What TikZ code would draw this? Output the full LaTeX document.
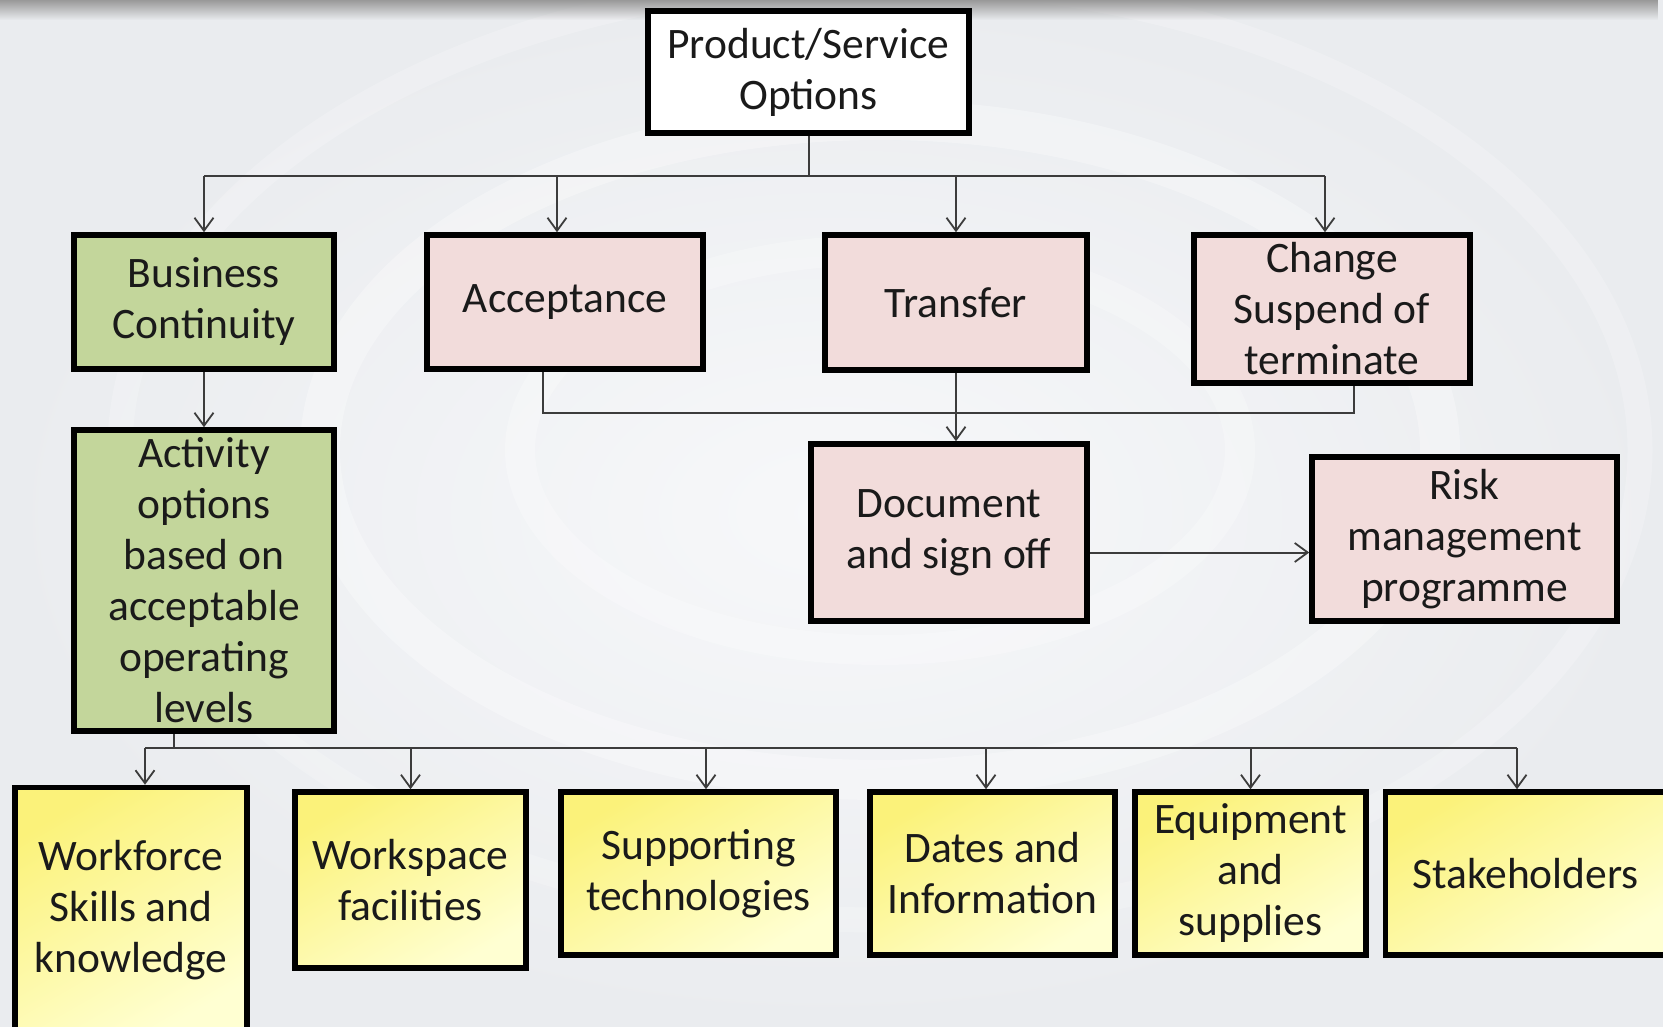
\documentclass[tikz,border=0pt]{standalone}
\usepackage{fontspec}
\setmainfont{Carlito}
\usetikzlibrary{arrows.meta,calc,fadings}
\definecolor{bgin}{HTML}{F7F8FA}
\definecolor{bgout}{HTML}{EAECEF}
\definecolor{grn}{HTML}{C3D69B}
\definecolor{pnk}{HTML}{F2DCDB}
\definecolor{ylwA}{HTML}{FBF27A}
\definecolor{ylwB}{HTML}{FFFFD2}
\definecolor{txt}{HTML}{1A1A1A}
\definecolor{conncol}{HTML}{3C3C3C}
\begin{document}
\begin{tikzpicture}[x=1pt,y=-1pt,
  box/.style={draw=black, line width=5.5pt, font=\fontsize{43.5}{51}\selectfont, text=txt, align=center, inner sep=0pt},
  wbox/.style={box, fill=white},
  gbox/.style={box, fill=grn},
  pbox/.style={box, fill=pnk},
  ybox/.style={box, top color=ylwA, bottom color=ylwB, shading angle=30},
  conn/.style={draw=conncol, line width=2pt},
  arr/.style={conn, -{Straight Barb[length=13pt,width=19pt,line width=1.8pt]}}]
\useasboundingbox (0,0) rectangle (1663,1026);
\clip (0,0) rectangle (1663,1026);
% background
\shade[inner color=bgin, outer color=bgout] (0,0) rectangle (1663,1026);
\draw[white, line width=40pt, opacity=0.3] (880,450) ellipse (560pt and 330pt);
\draw[white, line width=30pt, opacity=0.25] (880,450) ellipse (360pt and 200pt);
\draw[white, line width=25pt, opacity=0.2] (880,450) ellipse (760pt and 470pt);
\fill[black!40, path fading=south] (0,0) rectangle (1663,20);

% nodes
\node[wbox, minimum width=321pt, minimum height=122pt] (top) at (808.5,72) {Product/Service\\Options};
\node[gbox, minimum width=260pt, minimum height=134pt] (bc) at (204,302) {Business\\Continuity};
\node[pbox, minimum width=276pt, minimum height=134pt] (acc) at (565,302) {Acceptance};
\node[pbox, minimum width=262pt, minimum height=135pt] (tr) at (956,302.5) {Transfer};
\node[pbox, minimum width=276pt, minimum height=148pt] (chg) at (1332,309) {Change\\Suspend of\\terminate};
\node[pbox, minimum width=276pt, minimum height=177pt] (doc) at (949,532.5) {Document\\and sign off};
\node[pbox, minimum width=305pt, minimum height=164pt] (risk) at (1464.5,539) {Risk\\management\\programme};
\node[gbox, minimum width=260pt, minimum height=301pt] (act) at (204,580.5) {Activity\\options\\based on\\acceptable\\operating\\levels};
\node[ybox, minimum width=232pt, minimum height=246pt] (wf) at (131,910.5) {Workforce\\Skills and\\knowledge};
\node[ybox, minimum width=231pt, minimum height=176pt] (ws) at (410.5,880) {Workspace\\facilities};
\node[ybox, minimum width=275pt, minimum height=163pt] (sup) at (698.5,873.5) {Supporting\\technologies};
\node[ybox, minimum width=245pt, minimum height=163pt] (dat) at (992.5,873.5) {Dates and\\Information};
\node[ybox, minimum width=231pt, minimum height=163pt] (eq) at (1250.5,873.5) {Equipment\\and\\supplies};
\node[ybox, minimum width=280pt, minimum height=163pt] (stk) at (1525.5,873.5) {Stakeholders};

% top bus
\coordinate (b0) at (808.5,176);
\coordinate (ca) at ([xshift=-7pt]chg.north);
\coordinate (aa) at ([xshift=-8pt]acc.north);
\draw[conn] (top.south) -- (b0);
\draw[conn] (bc.north |- b0) -- (ca |- b0);
\draw[arr] (bc.north |- b0) -- (bc.north);
\draw[arr] (aa |- b0) -- (aa);
\draw[arr] (tr.north |- b0) -- (tr.north);
\draw[arr] (ca |- b0) -- (ca);

% merge to document
\coordinate (m) at (956,413);
\draw[conn] ([xshift=-22pt]acc.south) |- (m) -| ([xshift=22pt]chg.south);
\draw[arr] (tr.south) -- (tr.south |- doc.north);
\draw[arr] ([yshift=-20pt]doc.east) -- ([yshift=-20pt]doc.east -| risk.west);

% left branch
\draw[arr] (bc.south) -- (act.north);

% bottom bus
\coordinate (b1) at (174,748);
\coordinate (t1) at ([xshift=14pt]wf.north);
\coordinate (t2) at (ws.north);
\coordinate (t3) at ([xshift=7.5pt]sup.north);
\coordinate (t4) at ([xshift=-6.5pt]dat.north);
\coordinate (t5) at (eq.north);
\coordinate (t6) at ([xshift=-8.5pt]stk.north);
\draw[conn] ([xshift=-30pt]act.south) -- (b1);
\draw[conn] (t1 |- b1) -- (t6 |- b1);
\foreach \t in {t1,t2,t3,t4,t5,t6} \draw[arr] (\t |- b1) -- (\t);
\end{tikzpicture}
\end{document}
